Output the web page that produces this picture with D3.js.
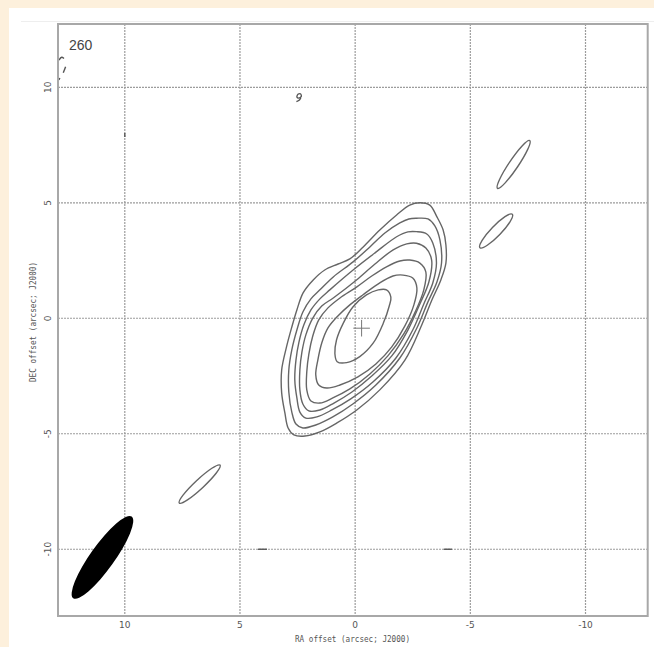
<!DOCTYPE html>
<html>
<head>
<meta charset="utf-8">
<script src="https://cdn.jsdelivr.net/npm/d3@7"></script>
<style>
    html, body { margin: 0; padding: 0; background: #fdf0dc; }
    svg { display: block; }
</style>
</head>
<body>
<div id="chart"></div>
<script>
let fieldLabel = "260";
let raTicks = [10, 5, 0, -5, -10];
let decTicks = [10, 5, 0, -5, -10];
let raTitle = "RA offset (arcsec; J2000)";
let decTitle = "DEC offset (arcsec; J2000)";
let raView = [12.9, -12.7];
let decView = [-12.89, 12.74];

// contour levels of the main source, outermost first: [RA, Dec] in arcsec
let level1 = [[-2.81, 5.00], [-3.24, 4.90], [-3.55, 4.39], [-3.82, 3.82], [-3.94, 3.17], [-3.94, 2.39],
    [-3.72, 1.66], [-3.33, 0.79], [-2.89, -0.29], [-2.16, -1.81], [-1.07, -3.10], [-0.07, -3.97],
    [0.79, -4.53], [1.53, -4.92], [2.18, -5.10], [2.66, -5.05], [2.91, -4.75], [3.05, -4.10],
    [3.19, -3.23], [3.19, -2.24], [2.98, -1.24], [2.75, -0.38], [2.53, 0.36], [2.26, 1.10],
    [1.82, 1.66], [1.32, 2.09], [0.74, 2.35], [0.23, 2.57], [-0.35, 3.09], [-1.07, 3.82],
    [-1.80, 4.47], [-2.37, 4.90]];
let level2 = [[-2.66, 4.33], [-3.16, 4.30], [-3.46, 4.00], [-3.68, 3.39], [-3.75, 2.39], [-3.55, 1.57],
    [-3.16, 0.71], [-2.68, -0.42], [-1.94, -1.72], [-0.90, -2.89], [0.10, -3.71], [0.97, -4.27],
    [1.71, -4.62], [2.27, -4.75], [2.57, -4.58], [2.75, -4.06], [2.88, -3.19], [2.88, -2.24],
    [2.75, -1.37], [2.53, -0.51], [2.27, 0.27], [1.92, 0.84], [1.53, 1.23], [0.95, 1.79],
    [0.09, 2.44], [-0.64, 3.09], [-1.29, 3.69], [-1.94, 4.13], [-2.33, 4.30]];
let level3 = [[-2.66, 3.75], [-3.11, 3.65], [-3.37, 3.26], [-3.53, 2.39], [-3.37, 1.53], [-2.98, 0.62],
    [-2.50, -0.51], [-1.77, -1.72], [-0.77, -2.76], [0.19, -3.49], [1.01, -3.97], [1.66, -4.27],
    [2.14, -4.32], [2.40, -4.06], [2.53, -3.45], [2.62, -2.67], [2.57, -1.81], [2.44, -1.03],
    [2.23, -0.29], [1.92, 0.36], [1.53, 0.84], [1.10, 1.23], [0.09, 2.09], [-0.86, 2.83],
    [-1.80, 3.53], [-2.29, 3.74]];
let level4 = [[-2.66, 3.25], [-3.07, 3.04], [-3.32, 2.52], [-3.20, 1.57], [-2.81, 0.62], [-2.29, -0.51],
    [-1.59, -1.63], [-0.72, -2.50], [0.14, -3.19], [0.92, -3.67], [1.53, -3.97], [2.01, -4.01],
    [2.27, -3.71], [2.40, -3.10], [2.40, -2.24], [2.31, -1.46], [2.14, -0.72], [1.84, 0.01],
    [1.45, 0.53], [0.95, 0.88], [-0.06, 1.66], [-0.86, 2.35], [-1.65, 2.96], [-2.24, 3.22]];
let level5 = [[-2.37, 2.52], [-2.81, 2.39], [-3.07, 2.00], [-2.98, 1.23], [-2.63, 0.32], [-2.11, -0.68],
    [-1.42, -1.63], [-0.64, -2.41], [0.23, -3.06], [0.97, -3.45], [1.53, -3.67], [1.92, -3.58],
    [2.10, -3.10], [2.10, -2.32], [2.01, -1.55], [1.84, -0.77], [1.58, -0.07], [1.18, 0.45],
    [0.66, 0.88], [-0.06, 1.35], [-0.72, 1.83], [-1.36, 2.23], [-1.94, 2.48]];
let level6 = [[-2.08, 1.87], [-2.50, 1.74], [-2.68, 1.31], [-2.55, 0.58], [-2.16, -0.33], [-1.59, -1.24],
    [-0.90, -1.98], [-0.12, -2.54], [0.66, -2.89], [1.23, -3.02], [1.58, -2.89], [1.71, -2.45],
    [1.62, -1.81], [1.45, -1.07], [1.18, -0.42], [0.75, 0.10], [0.23, 0.58], [-0.33, 1.01],
    [-0.99, 1.48], [-1.64, 1.83]];
let level7 = [[-1.36, 1.23], [-1.55, 0.92], [-1.48, 0.53], [-1.22, -0.22], [-0.78, -1.08], [-0.20, -1.66],
    [0.37, -1.92], [0.78, -1.88], [0.88, -1.52], [0.81, -0.94], [0.52, -0.22], [0.09, 0.50],
    [-0.49, 1.01], [-1.00, 1.23]];
let levels = [level1, level2, level3, level4, level5, level6, level7];

// compact knots along the jet axis: centre, half axes (arcsec), position angle (deg)
let knots = [
    {ra: -6.88, dec: 6.66, major: 1.25, minor: 0.20, pa: -34},
    {ra: -6.12, dec: 3.78, major: 1.01, minor: 0.22, pa: -44},
    {ra: 6.75, dec: -7.18, major: 1.21, minor: 0.20, pa: -47}
];

let beam = {ra: 10.97, dec: -10.35, major: 2.18, minor: 0.52, pa: -35.6};

// bits of noise contours
let noiseBits = [
    [[12.86, 11.18], [12.74, 11.30], [12.64, 11.25]],
    [[12.57, 10.89], [12.67, 10.63]],
    [[12.86, 10.32], [12.82, 10.40]],
    [[2.49, 9.70], [2.38, 9.72], [2.34, 9.60], [2.45, 9.53], [2.53, 9.58], [2.49, 9.70]],
    [[2.36, 9.55], [2.42, 9.45], [2.55, 9.38]],
    [[4.22, -10.0], [3.83, -10.0]],
    [[-3.85, -10.0], [-4.20, -10.0]],
    [[10.0, 8.02], [10.0, 7.85]]
];
let phaseCentre = [-0.28, -0.43];

let width = 654,
    height = 647;

let x = d3.scaleLinear().domain(raView).range([58, 647.7]);
let y = d3.scaleLinear().domain(decView).range([616, 24]);

let svg = d3.select("#chart").append("svg")
    .attr("width", width)
    .attr("height", height);

svg.append("rect")
    .attr("x", 9).attr("y", 8)
    .attr("width", width - 9).attr("height", height - 8)
    .attr("fill", "#fff");

svg.append("line")
    .attr("x1", 21).attr("x2", width)
    .attr("y1", 21.5).attr("y2", 21.5)
    .attr("stroke", "#eee");

svg.append("clipPath").attr("id", "frameClip")
    .append("rect")
    .attr("x", x(raView[0])).attr("y", y(decView[1]))
    .attr("width", x(raView[1]) - x(raView[0]))
    .attr("height", y(decView[0]) - y(decView[1]));

// grid
svg.selectAll(".vgrid")
    .data(raTicks)
    .enter()
    .append("line")
    .attr("class", "vgrid")
    .attr("x1", function (d) { return x(d); })
    .attr("x2", function (d) { return x(d); })
    .attr("y1", y(decView[1]))
    .attr("y2", y(decView[0]))
    .attr("stroke", "#9c9c9c")
    .attr("stroke-width", 1.2)
    .attr("stroke-dasharray", "2,1");

svg.selectAll(".hgrid")
    .data(decTicks)
    .enter()
    .append("line")
    .attr("class", "hgrid")
    .attr("y1", function (d) { return y(d); })
    .attr("y2", function (d) { return y(d); })
    .attr("x1", x(raView[0]))
    .attr("x2", x(raView[1]))
    .attr("stroke", "#9c9c9c")
    .attr("stroke-width", 1.2)
    .attr("stroke-dasharray", "2,1");

let plot = svg.append("g").attr("clip-path", "url(#frameClip)");

let contourLine = d3.line()
    .x(function (d) { return x(d[0]); })
    .y(function (d) { return y(d[1]); })
    .curve(d3.curveCatmullRomClosed.alpha(0.5));

let openLine = d3.line()
    .x(function (d) { return x(d[0]); })
    .y(function (d) { return y(d[1]); })
    .curve(d3.curveCatmullRom.alpha(0.5));

plot.selectAll(".level")
    .data(levels)
    .enter()
    .append("path")
    .attr("class", "level")
    .attr("d", contourLine)
    .attr("fill", "none")
    .attr("stroke", "#666")
    .attr("stroke-width", 1.4);

let pxPerArcsec = Math.abs(x(1) - x(0));

function screenAngle(pa) {
    let r = pa * Math.PI / 180;
    return Math.atan2(-Math.cos(r), -Math.sin(r)) * 180 / Math.PI;
}

plot.selectAll(".knot")
    .data(knots)
    .enter()
    .append("ellipse")
    .attr("class", "knot")
    .attr("rx", function (d) { return d.major * pxPerArcsec; })
    .attr("ry", function (d) { return d.minor * pxPerArcsec; })
    .attr("transform", function (d) {
        return "translate(" + x(d.ra) + "," + y(d.dec) + ") rotate(" + screenAngle(d.pa) + ")";
    })
    .attr("fill", "none")
    .attr("stroke", "#666")
    .attr("stroke-width", 1.4);

plot.selectAll(".noise")
    .data(noiseBits)
    .enter()
    .append("path")
    .attr("class", "noise")
    .attr("d", openLine)
    .attr("fill", "none")
    .attr("stroke", "#555")
    .attr("stroke-width", 1.4);

plot.append("ellipse")
    .attr("rx", beam.major * pxPerArcsec)
    .attr("ry", beam.minor * pxPerArcsec)
    .attr("transform", "translate(" + x(beam.ra) + "," + y(beam.dec) + ") rotate(" + screenAngle(beam.pa) + ")")
    .attr("fill", "#000");

// phase centre cross
let arm = 0.36;
plot.append("path")
    .attr("d", "M" + x(phaseCentre[0] + arm) + "," + y(phaseCentre[1]) + "H" + x(phaseCentre[0] - arm) +
        "M" + x(phaseCentre[0]) + "," + y(phaseCentre[1] + arm) + "V" + y(phaseCentre[1] - arm))
    .attr("stroke", "#777")
    .attr("stroke-width", 1);

// frame
svg.append("rect")
    .attr("x", x(raView[0])).attr("y", y(decView[1]))
    .attr("width", x(raView[1]) - x(raView[0]))
    .attr("height", y(decView[0]) - y(decView[1]))
    .attr("fill", "none")
    .attr("stroke", "#a8a8a8")
    .attr("stroke-width", 2);

// tick labels
svg.selectAll(".xtick")
    .data(raTicks)
    .enter()
    .append("text")
    .attr("class", "xtick")
    .attr("x", function (d) { return x(d); })
    .attr("y", 627.5)
    .attr("text-anchor", "middle")
    .attr("font-family", "DejaVu Sans")
    .attr("font-size", 9)
    .attr("fill", "#555")
    .text(function (d) { return d; });

svg.selectAll(".ytick")
    .data(decTicks)
    .enter()
    .append("text")
    .attr("class", "ytick")
    .attr("transform", function (d) { return "translate(51," + y(d) + ") rotate(-90)"; })
    .attr("text-anchor", "middle")
    .attr("font-family", "DejaVu Sans")
    .attr("font-size", 9)
    .attr("fill", "#555")
    .text(function (d) { return d; });

svg.append("text")
    .attr("x", 295)
    .attr("y", 642)
    .attr("textLength", 115)
    .attr("lengthAdjust", "spacingAndGlyphs")
    .attr("font-family", "DejaVu Sans Mono")
    .attr("font-size", 8)
    .attr("fill", "#555")
    .text(raTitle);

svg.append("text")
    .attr("transform", "translate(36,382) rotate(-90)")
    .attr("textLength", 120)
    .attr("lengthAdjust", "spacingAndGlyphs")
    .attr("font-family", "DejaVu Sans Mono")
    .attr("font-size", 8)
    .attr("fill", "#555")
    .text(decTitle);

svg.append("text")
    .attr("x", 69)
    .attr("y", 50)
    .attr("font-family", "Liberation Sans")
    .attr("font-size", 14)
    .attr("fill", "#444")
    .text(fieldLabel);
</script>
</body>
</html>
